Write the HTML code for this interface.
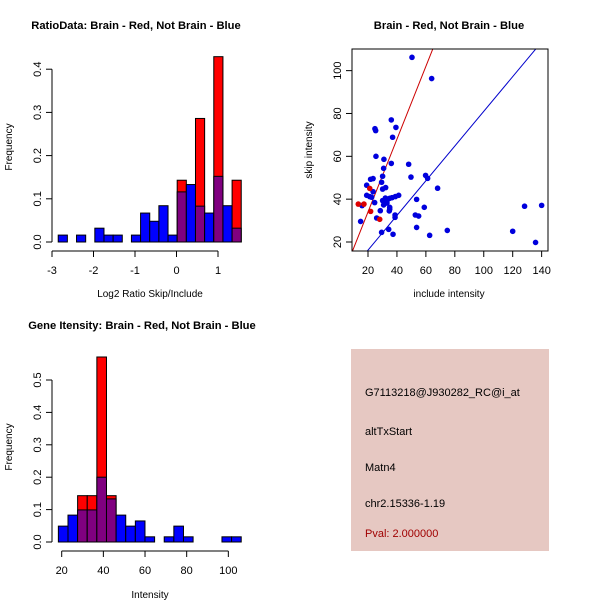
<!DOCTYPE html>
<html><head><meta charset="utf-8"><style>
html,body{margin:0;padding:0;background:#fff}
svg{display:block;font-family:"Liberation Sans",sans-serif}
</style></head><body>
<svg id="s" width="600" height="600" xmlns="http://www.w3.org/2000/svg">
<rect width="600" height="600" fill="#fff"/>
<text x="136" y="29" font-size="11.2" font-weight="bold" text-anchor="middle">RatioData: Brain - Red, Not Brain - Blue</text>
<text x="150" y="297" font-size="10" text-anchor="middle">Log2 Ratio Skip/Include</text>
<text transform="translate(12,147) rotate(-90)" font-size="10" text-anchor="middle">Frequency</text>
<text x="449" y="29" font-size="11.2" font-weight="bold" text-anchor="middle">Brain - Red, Not Brain - Blue</text>
<text x="449" y="297" font-size="10" text-anchor="middle">include intensity</text>
<text transform="translate(312,150) rotate(-90)" font-size="10" text-anchor="middle">skip intensity</text>
<text x="142" y="329" font-size="11.2" font-weight="bold" text-anchor="middle">Gene Itensity: Brain - Red, Not Brain - Blue</text>
<text x="150" y="598" font-size="10" text-anchor="middle">Intensity</text>
<text transform="translate(12,447) rotate(-90)" font-size="10" text-anchor="middle">Frequency</text>
<g>
<rect x="351" y="349" width="198" height="202" fill="#e6c8c2"/>
<text x="365" y="396" font-size="11">G7113218@J930282_RC@i_at</text>
<text x="365" y="435" font-size="11">altTxStart</text>
<text x="365" y="471" font-size="11">Matn4</text>
<text x="365" y="507" font-size="11">chr2.15336-1.19</text>
<text x="365" y="537" font-size="11" fill="#a00000">Pval: 2.000000</text>
</g>
</svg>
<script>
// Ratio histogram data
const ratioBinStart = -2.85, ratioBinWidth = 0.2205;
const ratioBlue = [0.016,0,0.016,0,0.032,0.016,0.016,0,0.016,0.067,0.048,0.084,0.016,0.116,0.133,0.083,0.067,0.152,0.084,0.032];
const ratioRed  = [0,0,0,0,0,0,0,0,0,0,0,0,0,0.143,0,0.286,0,0.429,0,0.143];
const ratioXTicks = [-3,-2,-1,0,1];
const ratioYTicks = [0.0,0.1,0.2,0.3,0.4];
// Intensity histogram data
const intBinStart = 18.4, intBinWidth = 4.62;
const intBlue = [0.049,0.083,0.099,0.099,0.2,0.133,0.083,0.049,0.065,0.016,0,0.016,0.049,0.016,0,0,0,0.016,0.016];
const intRed  = [0,0,0.143,0.143,0.571,0.143,0,0,0,0,0,0,0,0,0,0,0,0,0];
const intXTicks = [20,40,60,80,100];
const intYTicks = [0.0,0.1,0.2,0.3,0.4,0.5];
// Scatter data
const blueX = [50.4,64,36.1,25.3,24.8,39.3,37,25.5,31,36.1,48.1,30.8,49.7,59.8,61.2,30.1,21.8,23.5,29.4,19.1,32.2,30.1,23.5,68.1,19.1,21.2,22.5,41.2,38.9,36.6,32,33.8,35,30.1,31.3,33.1,24.6,30.8,53.6,15.9,58.9,35,35,34.7,28.5,128.2,140,52.7,55,38.7,38.7,26,14.9,53.6,34.3,29.4,37.3,62.6,74.8,120,135.8];
const blueY = [106.2,96.3,77,72,72.9,73.5,68.9,60,58.6,56.7,56.3,54.4,50.3,51.1,49.7,50.7,49.3,49.6,47.9,46.5,45.4,44.7,43.5,45.1,41.8,41.2,40.9,41.8,41.2,40.7,40.5,40,40.4,39.3,38.5,38.2,38.4,37.3,39.9,37,36.2,36.2,35.3,34.5,34.6,36.7,37.1,32.6,32.1,32.6,31.5,31.2,29.6,26.8,25.9,24.5,23.6,23.1,25.4,25,19.8];
const redX = [13.3,17.2,21.2,21.8,28.1];
const redY = [37.7,37.7,45,34.3,30.6];
const redSlope = 1.7, blueSlope = 0.81;
const scXTicks = [20,40,60,80,100,120,140];
const scYTicks = [20,40,60,80,100];

const NS='http://www.w3.org/2000/svg', svg=document.getElementById('s');
function mk(tag, attrs, parent){const e=document.createElementNS(NS,tag);for(const k in attrs)e.setAttribute(k,attrs[k]);(parent||svg).appendChild(e);return e;}

function hist(o){
  const g=mk('g',{});
  
  
  const sx=v=>o.x0+(v-o.xv0)*o.kx, sy=v=>o.y0-v*o.ky;
  o.blue.forEach((b,i)=>{
    const r=o.red[i], l=sx(o.start+i*o.w), rr=sx(o.start+(i+1)*o.w);
    if(r>0){const e=mk('rect',{x:l,y:sy(r),width:rr-l,height:sy(0)-sy(r),fill:'#ff0000',stroke:'#000','stroke-width':1},g);
      
      }
    if(b>0){const e=mk('rect',{x:l,y:sy(b),width:rr-l,height:sy(0)-sy(b),fill:r>0?'#800080':'#0000ff',stroke:'#000','stroke-width':1},g);
      
      }
  });
  const yt=o.yticks, axx=52;
  mk('line',{x1:axx,x2:axx,y1:sy(yt[0]),y2:sy(yt[yt.length-1]),stroke:'#000'},g);
  yt.forEach(t=>{mk('line',{x1:axx-6,x2:axx,y1:sy(t),y2:sy(t),stroke:'#000'},g);
    const tx=mk('text',{transform:`translate(${axx-11},${sy(t)}) rotate(-90)`,'font-size':11,'text-anchor':'middle'},g);tx.textContent=t.toFixed(1);});
  const xt=o.xticks, ay=o.y0+9;
  mk('line',{x1:sx(xt[0]),x2:sx(xt[xt.length-1]),y1:ay,y2:ay,stroke:'#000'},g);
  xt.forEach(t=>{mk('line',{x1:sx(t),x2:sx(t),y1:ay,y2:ay+6,stroke:'#000'},g);
    const tx=mk('text',{x:sx(t),y:ay+23,'font-size':11,'text-anchor':'middle'},g);tx.textContent=t;});
}
hist({name:'ratio-histogram',blue:ratioBlue,red:ratioRed,start:ratioBinStart,w:ratioBinWidth,x0:52,xv0:-3,kx:41.5,y0:242,ky:432,xticks:ratioXTicks,yticks:ratioYTicks});
hist({name:'intensity-histogram',blue:intBlue,red:intRed,start:intBinStart,w:intBinWidth,x0:61.7,xv0:20,kx:2.083,y0:542,ky:324,xticks:intXTicks,yticks:intYTicks});

// scatter
(function(){
  const g=mk('g',{});
  
  
  const sx=v=>368+(v-20)*1.447, sy=v=>242-(v-20)*2.142;
  const cp=mk('clipPath',{id:'cp'},g);mk('rect',{x:352,y:49,width:196,height:202},cp);
  const l1=mk('line',{x1:sx(0),y1:sy(0),x2:sx(150),y2:sy(150*redSlope),stroke:'#cc0000','clip-path':'url(#cp)'},g);
  
  
  const l2=mk('line',{x1:sx(0),y1:sy(0),x2:sx(150),y2:sy(150*blueSlope),stroke:'#0000cc','clip-path':'url(#cp)'},g);
  
  
  blueX.forEach((x,i)=>{const c=mk('circle',{cx:sx(x),cy:sy(blueY[i]),r:2.8,fill:'#0000dd'},g);
    
    });
  redX.forEach((x,i)=>{const c=mk('circle',{cx:sx(x),cy:sy(redY[i]),r:2.8,fill:'#dd0000'},g);
    
    });
  mk('rect',{x:352,y:49,width:196,height:202,fill:'none',stroke:'#000'},g);
  scXTicks.forEach(t=>{mk('line',{x1:sx(t),x2:sx(t),y1:251,y2:257,stroke:'#000'},g);
    const tx=mk('text',{x:sx(t),y:274,'font-size':11,'text-anchor':'middle'},g);tx.textContent=t;});
  scYTicks.forEach(t=>{mk('line',{x1:346,x2:352,y1:sy(t),y2:sy(t),stroke:'#000'},g);
    const tx=mk('text',{transform:`translate(341,${sy(t)}) rotate(-90)`,'font-size':11,'text-anchor':'middle'},g);tx.textContent=t;});
})();
</script>
</body></html>
